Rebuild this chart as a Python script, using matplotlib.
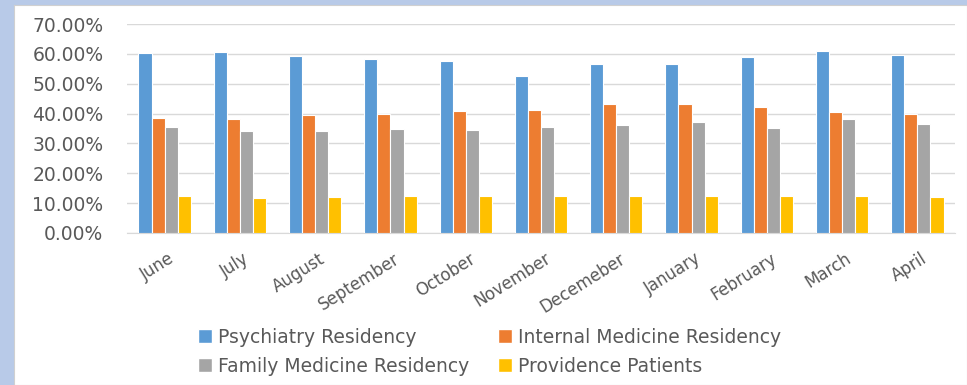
import numpy as np
import matplotlib.pyplot as plt
from matplotlib.patches import Patch
from matplotlib.transforms import ScaledTranslation

plt.rcParams['font.family'] = ['DejaVu Sans']

months = ['June', 'July', 'August', 'September', 'October', 'November',
          'Decemeber', 'January', 'February', 'March', 'April']
psychiatry = [60.4, 60.6, 59.3, 58.3, 57.5, 52.7, 56.5, 56.7, 58.9, 61.0, 59.6]
internal = [38.6, 38.1, 39.4, 39.8, 40.9, 41.2, 43.2, 43.2, 42.1, 40.5, 40.0]
family = [35.4, 34.3, 34.3, 34.8, 34.4, 35.5, 36.1, 37.2, 35.2, 38.1, 36.5]
providence = [12.5, 11.6, 12.0, 12.5, 12.5, 12.5, 12.5, 12.5, 12.5, 12.5, 12.2]
series_names = ['Psychiatry Residency', 'Internal Medicine Residency',
                'Family Medicine Residency', 'Providence Patients']
colors = ['#5b9bd5', '#ed7d31', '#a5a5a5', '#ffc000']

fig = plt.figure(figsize=(9.67, 3.85), dpi=100)
fig.patch.set_facecolor('#b8cae8')

# white chart area on the slide
bg = fig.add_axes([14 / 967, 0, 1 - 14 / 967, 1 - 5 / 385], zorder=-1)
bg.set_facecolor('white')
bg.set_xticks([])
bg.set_yticks([])
for s in bg.spines.values():
    s.set_color('#d0d0d0')

ax = fig.add_axes([127 / 967, 1 - 233 / 385, 828 / 967, 209 / 385])
ax.set_facecolor('none')

x = np.arange(len(months))
w = 0.174
data = [psychiatry, internal, family, providence]
for i, vals in enumerate(data):
    ax.bar(x + (i - 1.5) * w, np.array(vals) / 100, w, color=colors[i],
           edgecolor='white', linewidth=0.8, zorder=3)

ax.set_xlim(-0.5, len(months) - 0.5)
ax.set_ylim(0, 0.7)
yt = np.arange(0, 0.71, 0.1)
ax.set_yticks(yt)
ax.set_yticklabels(['%.2f%%' % (v * 100) for v in yt])
ax.grid(axis='y', color='#d9d9d9', linewidth=1, zorder=0)
for s in ['top', 'right', 'left']:
    ax.spines[s].set_visible(False)
ax.spines['bottom'].set_color('#d9d9d9')
ax.tick_params(length=0, colors='#595959')
ax.tick_params(axis='y', pad=17, labelsize=13.5)
ax.set_xticks(x)
ax.set_xticklabels(months, rotation=32, ha='right', va='top',
                   rotation_mode='anchor', fontsize=12)
ax.tick_params(axis='x', pad=12)
shift = ScaledTranslation(0.03, 0, fig.dpi_scale_trans)
for lab in ax.get_xticklabels():
    lab.set_transform(lab.get_transform() + shift)

# legend fills column-wise; reorder so rows read like the reference
order = [0, 2, 1, 3]
handles = [Patch(facecolor=colors[i], edgecolor='white') for i in order]
labels = [series_names[i] for i in order]
fig.legend(handles, labels, loc='lower left', bbox_to_anchor=(181 / 967, -0.02),
           ncol=2, frameon=False, fontsize=13.5, labelcolor='#595959',
           handlelength=0.75, handleheight=0.75, handletextpad=0.3,
           columnspacing=1.55, labelspacing=0.55)

plt.savefig('out.png', dpi=100, facecolor=fig.get_facecolor())
